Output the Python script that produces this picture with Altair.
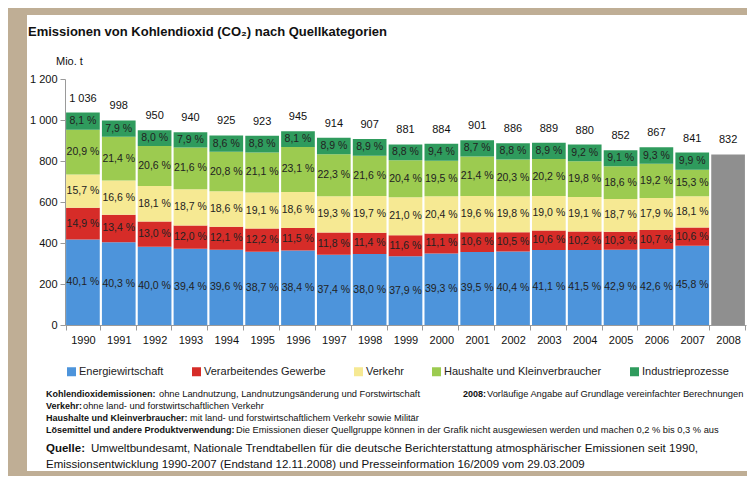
import altair as alt
import pandas as pd

# ---------------- data ----------------
years = [str(y) for y in range(1990, 2008)]
totals = [1036, 998, 950, 940, 925, 923, 945, 914, 907, 881, 884, 901, 886, 889, 880, 852, 867, 841]
year_prelim = "2008"
total_prelim = 832

categories = ["Energiewirtschaft", "Verarbeitendes Gewerbe", "Verkehr",
              "Haushalte und Kleinverbraucher", "Industrieprozesse"]
energie = [40.1, 40.3, 40.0, 39.4, 39.6, 38.7, 38.4, 37.4, 38.0, 37.9, 39.3, 39.5, 40.4, 41.1, 41.5, 42.9, 42.6, 45.8]
gewerbe = [14.9, 13.4, 13.0, 12.0, 12.1, 12.2, 11.5, 11.8, 11.4, 11.6, 11.1, 10.6, 10.5, 10.6, 10.2, 10.3, 10.7, 10.6]
verkehr = [15.7, 16.6, 18.1, 18.7, 18.6, 19.1, 18.6, 19.3, 19.7, 21.0, 20.4, 19.6, 19.8, 19.0, 19.1, 18.7, 17.9, 18.1]
haushalte = [20.9, 21.4, 20.6, 21.6, 20.8, 21.1, 23.1, 22.3, 21.6, 20.4, 19.5, 21.4, 20.3, 20.2, 19.8, 18.6, 19.2, 15.3]
industrie = [8.1, 7.9, 8.0, 7.9, 8.6, 8.8, 8.1, 8.9, 8.9, 8.8, 9.4, 8.7, 8.8, 8.9, 9.2, 9.1, 9.3, 9.9]

colors = ["#4d94db", "#d62c28", "#f6e993", "#9ccb50", "#2f9b5d"]
prelim_color = "#8f8f8f"
y_ticks = [0, 200, 400, 600, 800, 1000, 1200]

title_text = "Emissionen von Kohlendioxid (CO\u2082) nach Quellkategorien"
unit_text = "Mio. t"
notes_bold = ["Kohlendioxidemissionen:", "Verkehr:", "Haushalte und Kleinverbraucher:",
              "Lösemittel und andere Produktverwendung:"]
notes_text = ["ohne Landnutzung, Landnutzungsänderung und Forstwirtschaft",
              " ohne land- und forstwirtschaftlichen Verkehr",
              "mit land- und forstwirtschaftlichem Verkehr sowie Militär",
              "Die Emissionen dieser Quellgruppe können in der Grafik nicht ausgewiesen werden und machen 0,2 % bis 0,3 % aus"]
prelim_bold = "2008:"
prelim_text = " Vorläufige Angabe auf Grundlage vereinfachter Berechnungen"
source_bold = "Quelle:"
source_line1 = "Umweltbundesamt, Nationale Trendtabellen für die deutsche Berichterstattung atmosphärischer Emissionen seit 1990,"
source_line2 = "Emissionsentwicklung 1990-2007 (Endstand 12.11.2008) und Presseinformation 16/2009 vom 29.03.2009"

# ---------------- tables ----------------
series = [energie, gewerbe, verkehr, haushalte, industrie]
rows = []
for i, yr in enumerate(years):
    s = sum(ser[i] for ser in series)
    for j, cat in enumerate(categories):
        rows.append({"year": yr, "cat": cat, "order": j, "pct": series[j][i],
                     "value": series[j][i] / s * totals[i]})
df = pd.DataFrame(rows)
df_tot = pd.DataFrame({"year": years + [year_prelim], "total": totals + [total_prelim]})
df_pre = pd.DataFrame({"year": [year_prelim], "total": [total_prelim]})

FONT = "Liberation Sans"
x_domain = years + [year_prelim]
xscale = alt.Scale(domain=x_domain, paddingInner=0.06, paddingOuter=0.03)
yscale = alt.Scale(domain=[0, 1200], nice=False)

xaxis = alt.Axis(title=None, labelAngle=0, tickBand="extent", tickSize=5, labelPadding=4,
                 labelFontSize=11, labelColor="#111", domainColor="#9a9a9a", tickColor="#9a9a9a",
                 labelFont=FONT, grid=False, zindex=2)
yaxis = alt.Axis(title=None, values=y_ticks, tickSize=5, labelPadding=3, labelFontSize=11,
                 labelColor="#111", domainColor="#9a9a9a", tickColor="#9a9a9a", labelFont=FONT,
                 grid=False, zindex=2, labelExpr="replace(format(datum.value, ','), ',', ' ')")


def X(field):
    return alt.X(field, scale=xscale, axis=xaxis)


def Y(field, **kw):
    return alt.Y(field, scale=yscale, axis=yaxis, **kw)


one = pd.DataFrame({"a": [0]})

panel = alt.Chart(one).mark_rect(color="white").encode(
    x=alt.value(-38), x2=alt.value(683), y=alt.value(-64), y2=alt.value(392))

bars = alt.Chart(df).mark_bar().encode(
    x=X("year:O"),
    y=Y("value:Q", stack="zero"),
    color=alt.Color("cat:N", scale=alt.Scale(domain=categories, range=colors),
                    legend=alt.Legend(orient="none", legendX=1, legendY=287, direction="horizontal",
                                      columns=5, title=None, symbolType="square", symbolSize=81,
                                      symbolStrokeWidth=0, labelFontSize=11, labelFont=FONT,
                                      labelColor="#222", labelOffset=2, columnPadding=27,
                                      padding=0)),
    order=alt.Order("order:Q"),
)

prelim_bar = alt.Chart(df_pre).mark_bar(color=prelim_color).encode(
    x=X("year:O"),
    y=Y("total:Q"),
)

pct_text = alt.Chart(df).transform_stack(
    stack="value", groupby=["year"], sort=[alt.SortField("order")], as_=["v0", "v1"]
).transform_calculate(
    mid="(datum.v0 + datum.v1) / 2",
    lab="replace(format(datum.pct, '.1f'), '.', ',') + ' %'"
).mark_text(fontSize=10.5, font=FONT, color="#222").encode(
    x=X("year:O"),
    y=Y("mid:Q"),
    text="lab:N",
)

tot_text = alt.Chart(df_tot).transform_calculate(
    lab="replace(format(datum.total, ','), ',', ' ')"
).mark_text(fontSize=11, font=FONT, color="#111", baseline="bottom", dy=-9).encode(
    x=X("year:O"),
    y=Y("total:Q"),
    text="lab:N",
)


def label(txt, x, y, size, bold=False):
    return alt.Chart(pd.DataFrame({"t": [txt]})).mark_text(
        align="left", baseline="middle", fontSize=size, font=FONT,
        fontWeight="bold" if bold else "normal", color="#111"
    ).encode(x=alt.value(x), y=alt.value(y), text="t:N")


texts = [
    label(title_text, -37, -47, 13, True),
    label(unit_text, -9, -17, 11),
]
note_y = [315, 327, 339, 351]
note_x2 = [94, 18, 125, 171]
for b, t, yy, x2 in zip(notes_bold, notes_text, note_y, note_x2):
    texts.append(label(b, -19, yy, 9, True))
    texts.append(label(t, x2, yy, 9.3))
texts.append(label(prelim_bold, 398, 315, 9, True))
texts.append(label(prelim_text, 422, 315, 9.3))
texts.append(label(source_bold, -19, 370, 11.5, True))
texts.append(label(source_line1, 26, 370, 11.6))
texts.append(label(source_line2, -19, 386, 11.5))

chart = alt.layer(panel, bars, prelim_bar, pct_text, tot_text, *texts).properties(
    width=681, height=246,
    autosize=alt.AutoSizeParams(type="none"),
    padding={"left": 57, "top": 71, "right": 1, "bottom": 151},
    background="#bfae95",
).configure_view(stroke=None)

chart.save("out.html", embed_options={"renderer": "svg", "actions": False})
